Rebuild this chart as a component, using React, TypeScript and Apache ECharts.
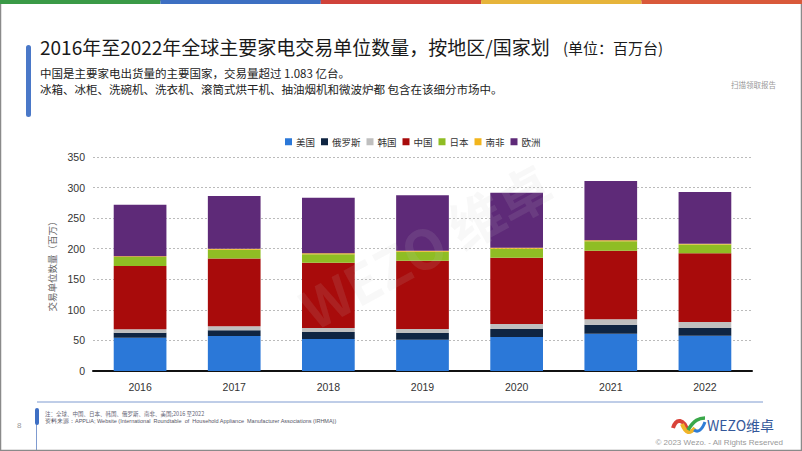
import React, { useEffect, useRef } from "react";
import * as echarts from "echarts";

const years = ["2016", "2017", "2018", "2019", "2020", "2021", "2022"];
const seriesNames = ["美国", "俄罗斯", "韩国", "中国", "日本", "南非", "欧洲"];
const usa = [54.5, 57.3, 52.3, 51.3, 55.6, 61.1, 57.8];
const russia = [8.2, 9.2, 11.5, 10.9, 13.1, 14.7, 12.5];
const korea = [5.5, 6.5, 6.5, 6.5, 8.2, 8.7, 9.9];
const china = [103.6, 110.8, 106.9, 111.8, 108.5, 112.3, 112.3];
const japan = [14.7, 14.7, 13.6, 14.7, 14.7, 15.3, 14.2];
const southAfrica = [1.1, 1.6, 1.7, 1.6, 1.6, 1.6, 1.6];
const europe = [84.4, 86.2, 91.0, 90.5, 90.0, 97.1, 84.5];
const seriesColors = ["#2b78d8", "#0f2542", "#bfbfbf", "#a80b0b", "#8fbd24", "#f2b51c", "#5e2a78"];

const CJK = '"Noto Sans CJK SC", "Noto Sans", sans-serif';
const SANS = '"Liberation Sans", Arial, sans-serif';

export default function App() {
  const ref = useRef<HTMLDivElement>(null);
  useEffect(() => {
    document.body.style.margin = "0";
    if (!ref.current) return;
    const chart = echarts.init(ref.current, null, { renderer: "svg" });
    const data = [usa, russia, korea, china, japan, southAfrica, europe];
    const stripe = ["#3a9a47", "#3d6fc2", "#d0423a", "#e6b43a", "#d9593a"];
    const graphics: any[] = [];
    stripe.forEach((c, i) => {
      graphics.push({ type: "rect", shape: { x: i * 160.4, y: 0, width: 160.4, height: 4 }, style: { fill: c }, z: 10 });
    });
    graphics.push(
      { type: "rect", shape: { x: 0.5, y: 0.5, width: 801, height: 450 }, style: { fill: "none", stroke: "#8a8a8a", lineWidth: 1.5 }, z: 9 },
      { type: "rect", shape: { x: 26, y: 45, width: 5, height: 72, r: 2.5 }, style: { fill: "#4a78c8" } },
      { type: "text", x: 40, y: 46, style: { text: "2016年至2022年全球主要家电交易单位数量，按地区/国家划", font: `19px ${CJK}`, fill: "#1a1a1a", textVerticalAlign: "middle" } },
      { type: "text", x: 563, y: 47, style: { text: "(单位：百万台)", font: `15px ${CJK}`, fill: "#1a1a1a", textVerticalAlign: "middle" } },
      { type: "text", x: 40, y: 73, style: { text: "中国是主要家电出货量的主要国家，交易量超过 1.083 亿台。", font: `11.5px ${CJK}`, fill: "#222", textVerticalAlign: "middle" } },
      { type: "text", x: 40, y: 88.5, style: { text: "冰箱、冰柜、洗碗机、洗衣机、滚筒式烘干机、抽油烟机和微波炉都 包含在该细分市场中。", font: `11.5px ${CJK}`, fill: "#222", textVerticalAlign: "middle" } },
      { type: "text", x: 731, y: 84, style: { text: "扫描领取报告", font: `7.5px ${CJK}`, fill: "#999", textVerticalAlign: "middle" } },
      { type: "text", x: 425, y: 245, rotation: 0.5, style: { text: "WEZO 维卓", font: `bold 54px ${CJK}`, fill: "rgba(200,200,200,0.12)", textAlign: "center", textVerticalAlign: "middle" }, z: 20 },
      { type: "line", shape: { x1: 37, y1: 402, x2: 763, y2: 402 }, style: { stroke: "#7f9bd0", lineWidth: 1 } },
      { type: "line", shape: { x1: 36.5, y1: 410, x2: 36.5, y2: 451 }, style: { stroke: "#7f9bd0", lineWidth: 1 } },
      { type: "rect", shape: { x: 35, y: 408, width: 4, height: 17, r: 2 }, style: { fill: "#3e6fc4" } },
      { type: "text", x: 17, y: 425, style: { text: "8", font: `8px ${SANS}`, fill: "#999", textVerticalAlign: "middle" } },
      { type: "text", x: 45, y: 414, style: { text: "注：全球、中国、日本、韩国、俄罗斯、南非、美国;2016 至2022", font: `5.5px ${CJK}`, fill: "#667", textVerticalAlign: "middle" } },
      { type: "text", x: 45, y: 421, style: { text: "资料来源：APPLiA; Website (International  Roundtable  of  Household Appliance  Manufacturer Associations (IRHMA))", font: `5.5px ${SANS}`, fill: "#556", textVerticalAlign: "middle" } },
      { type: "bezierCurve", shape: { x1: 673, y1: 428, x2: 688, y2: 432, cpx1: 676, cpy1: 418, cpx2: 684, cpy2: 418 }, style: { stroke: "#d9433a", lineWidth: 4, fill: "none" } },
      { type: "bezierCurve", shape: { x1: 682, y1: 424, x2: 695, y2: 428, cpx1: 686, cpy1: 434, cpx2: 690, cpy2: 434 }, style: { stroke: "#f0b429", lineWidth: 4, fill: "none" } },
      { type: "bezierCurve", shape: { x1: 688, y1: 430, x2: 705, y2: 418, cpx1: 694, cpy1: 420, cpx2: 699, cpy2: 418 }, style: { stroke: "#3aa84a", lineWidth: 3.5, fill: "none" } },
      { type: "bezierCurve", shape: { x1: 694, y1: 430, x2: 705, y2: 422, cpx1: 698, cpy1: 433, cpx2: 702, cpy2: 430 }, style: { stroke: "#2f7dd6", lineWidth: 3, fill: "none" } },
      { type: "text", x: 707, y: 425, style: { text: "WEZO维卓", font: `14px ${CJK}`, fill: "#34589a", textVerticalAlign: "middle" } },
      { type: "text", x: 783, y: 442, style: { text: "© 2023 Wezo. - All Rights Reserved", font: `8px ${SANS}`, fill: "#999", textAlign: "right", textVerticalAlign: "middle" } }
    );

    chart.setOption({
      animation: false,
      backgroundColor: "#fff",
      color: seriesColors,
      legend: {
        data: seriesNames,
        left: 280,
        top: 132,
        icon: "rect",
        itemWidth: 7,
        itemHeight: 7,
        itemGap: 6,
        textStyle: { fontSize: 9.5, color: "#333", fontFamily: CJK, padding: [0, 0, 0, -1] },
      },
      grid: { left: 93, right: 50, top: 157, bottom: 80, containLabel: false },
      xAxis: {
        type: "category",
        data: years,
        axisLine: { lineStyle: { color: "#111", width: 2 } },
        axisTick: { show: false },
        axisLabel: { fontSize: 10.5, color: "#333", margin: 10, fontFamily: SANS },
      },
      yAxis: {
        type: "value",
        min: 0,
        max: 350,
        interval: 50,
        name: "交易单位数量（百万）",
        nameLocation: "middle",
        nameGap: 33,
        nameTextStyle: { fontSize: 9.5, color: "#666", fontFamily: CJK },
        axisLine: { show: false },
        axisTick: { show: false },
        axisLabel: { fontSize: 10.5, color: "#333", margin: 8, fontFamily: SANS },
        splitLine: { lineStyle: { color: "#bbb", type: [2, 2], width: 1 } },
      },
      graphic: { elements: graphics },
      series: seriesNames.map((n, i) => ({
        name: n,
        type: "bar",
        stack: "total",
        barWidth: "56%",
        data: data[i],
        itemStyle: { color: seriesColors[i] },
      })),
    });
    return () => chart.dispose();
  }, []);
  return <div ref={ref} style={{ width: 802, height: 451, position: "absolute", left: 0, top: 0 }} />;
}
